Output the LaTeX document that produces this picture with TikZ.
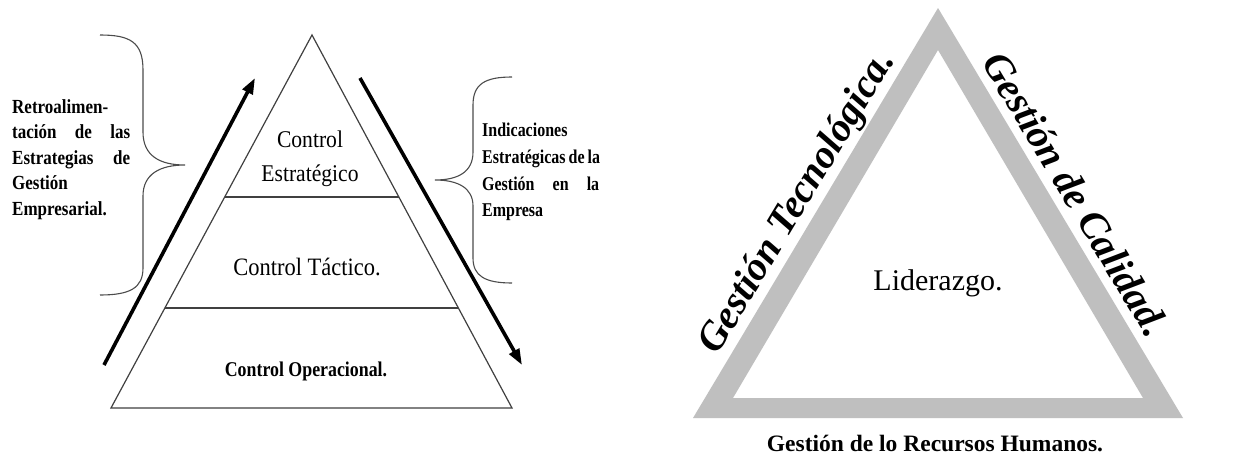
\documentclass[tikz,border=0pt]{standalone}
\usepackage{fontspec}
\setmainfont{Liberation Serif}
\newfontfamily\condf[FakeStretch=0.85]{Liberation Serif}
\newfontfamily\condr[FakeStretch=0.82]{Liberation Serif}
\newfontfamily\narf[FakeStretch=0.9]{Liberation Serif}
\usetikzlibrary{arrows.meta,calc}
\tikzset{
  pyr/.style={draw=black!75, line width=1.2pt},
  bigarrow/.style={line width=3.6pt, -{Triangle[length=16pt,width=11pt]}},
  bracestyle/.style={draw=black!70, line width=1.1pt},
  sidetxt/.style={font=\condf\bfseries\fontsize{20}{25.5}\selectfont, inner sep=0pt, anchor=north west, align=left},
  pyrtxt/.style={inner sep=0pt, align=center},
  band/.style={fill=black!25, even odd rule},
  rottxt/.style={font=\bfseries\itshape\fontsize{40}{40}\selectfont, inner sep=0pt}
}
\begin{document}
\begin{tikzpicture}[x=1pt,y=-1pt]
\useasboundingbox (0,0) rectangle (1248,455);
\fill[white] (0,0) rectangle (1248,455);

% ---------- Left pyramid ----------
\coordinate (apex) at (312,35);
\coordinate (bl) at (111,408);
\coordinate (br) at (512,408);
\draw[pyr] (apex) -- (bl) -- (br) -- cycle;
\coordinate (l1a) at ($(apex)!{162/373}!(bl)$);
\coordinate (l1b) at ($(apex)!{162/373}!(br)$);
\coordinate (l2a) at ($(apex)!{273/373}!(bl)$);
\coordinate (l2b) at ($(apex)!{273/373}!(br)$);
\draw[pyr] (l1a) -- (l1b);
\draw[pyr] (l2a) -- (l2b);

\node[pyrtxt, font=\narf\fontsize{24}{34}\selectfont] (ce) at (310,159) {Control\\Estratégico};
\node[pyrtxt, font=\narf\fontsize{25}{25}\selectfont] (ct) at (307,267) {Control Táctico.};
\node[pyrtxt, font=\condf\bfseries\fontsize{21}{21}\selectfont] (co) at (306,371) {Control Operacional.};

% arrows
\coordinate (upS) at (104,365);
\coordinate (upE) at (255,78);
\draw[bigarrow] (upS) -- (upE);
\coordinate (dnS) at (360,78);
\coordinate (dnE) at (522,365);
\draw[bigarrow] (dnS) -- (dnE);

% braces
\draw[bracestyle] (100,35) .. controls (130,35) and (143,42) .. (143,70) -- (143,132)
  .. controls (143,156) and (160,165) .. (185,165)
  .. controls (160,165) and (143,174) .. (143,196) -- (143,268)
  .. controls (143,288) and (130,295) .. (100,295);
\draw[bracestyle] (512,77) .. controls (485,77) and (473,84) .. (473,105) -- (473,152)
  .. controls (473,172) and (458,180) .. (435,180)
  .. controls (458,180) and (473,188) .. (473,206) -- (473,258)
  .. controls (473,276) and (485,283) .. (512,283);

% side texts
\node[sidetxt] (fb) at (12,99) {Retroalimen-\\
\makebox[118pt][s]{tación de las}\\
\makebox[118pt][s]{Estrategias de}\\
Gestión\\
Empresarial.};
\node[sidetxt, font=\condr\bfseries\fontsize{19.5}{26.7}\selectfont] (ind) at (482,123) {Indicaciones\\
\hbox to 117pt{Estratégicas\hspace{3pt plus 1fil}de\hspace{3pt plus 1fil}la}\\
\hbox to 117pt{Gestión\hspace{3pt plus 1fil}en\hspace{3pt plus 1fil}la}\\
Empresa};

% ---------- Right triangle ----------
\fill[band] (938,8) -- (693,418) -- (1183,418) -- cycle
            (938,50) -- (733,398) -- (1143,398) -- cycle;
\node[font=\fontsize{30}{30}\selectfont, inner sep=0pt] (lid) at (938,283) {Liderazgo.};
\node[font=\bfseries\fontsize{23.5}{23.5}\selectfont, inner sep=0pt] (rh) at (935,443) {Gestión de lo Recursos Humanos.};
\node[rottxt, rotate=59] (gt) at (798,203) {Gestión Tecnológica.};
\node[rottxt, rotate=-59] (gc) at (1076,194) {Gestión de Calidad.};
\end{tikzpicture}
\end{document}
